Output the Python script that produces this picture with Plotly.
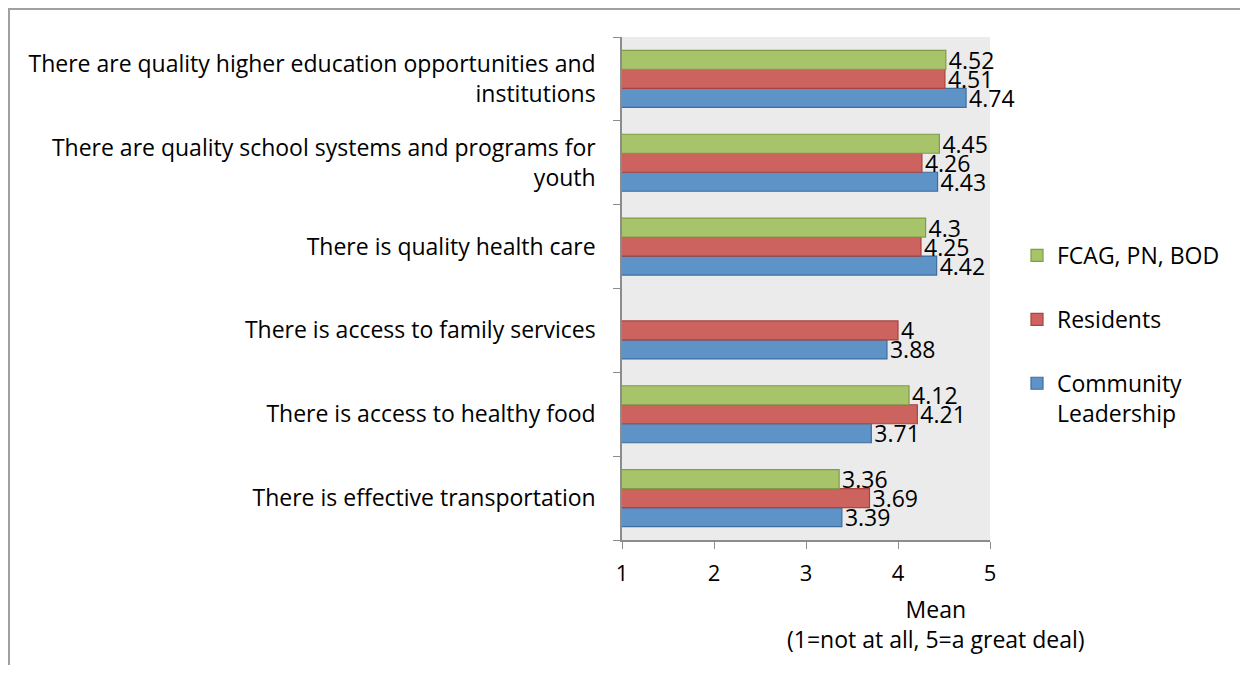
import plotly.graph_objects as go

# categories top-to-bottom as in the chart
categories = [
    "There are quality higher education opportunities and<br>institutions",
    "There are quality school systems and programs for<br>youth",
    "There is quality health care",
    "There is access to family services",
    "There is access to healthy food",
    "There is effective transportation",
]
fcag      = [4.52, 4.45, 4.3, None, 4.12, 3.36]
residents = [4.51, 4.26, 4.25, 4, 4.21, 3.69]
community = [4.74, 4.43, 4.42, 3.88, 3.71, 3.39]
x_ticks   = [1, 2, 3, 4, 5]

FONT = "Open Sans, sans-serif"

# first trace sits at the bottom of each group; legendrank puts FCAG on top of the legend
series = [
    ("Community<br>Leadership", community, "#5e93c7", "#3f6d9e", 3),
    ("Residents", residents, "#cd635f", "#a8433f", 2),
    ("FCAG, PN, BOD", fcag, "#a8c46b", "#7f9d42", 1),
]

fig = go.Figure()
for i, (name, vals, fill, edge, rank) in enumerate(series):
    fig.add_trace(go.Bar(
        y=categories, x=vals, orientation="h", name=name,
        marker=dict(color=fill, line=dict(color=edge, width=1.2)),
        text=[("" if v is None else f"{v:g}") for v in vals],
        textposition="outside", cliponaxis=False, constraintext="none",
        textfont=dict(size=23, color="black", family=FONT),
        legendgroup=f"g{i}", legendrank=rank,
    ))

# page body has an 8px margin, so figure coords = page coords - 8
W, H = 1232, 657
L, T = 614, 29
R, B = W - 982, H - 532
pw, ph = W - L - R, H - T - B

fig.update_layout(
    width=W, height=H,
    margin=dict(l=L, r=R, t=T, b=B, pad=0),
    paper_bgcolor="white", plot_bgcolor="#ebebeb",
    font=dict(family=FONT, size=23, color="black"),
    barmode="group", bargap=0.32, bargroupgap=0,
    showlegend=True,
    legend=dict(x=(1009 - L) / pw, y=1 - (226 - T) / ph, xanchor="left", yanchor="top",
                traceorder="grouped", tracegroupgap=31, valign="top",
                font=dict(size=23), itemwidth=30, bgcolor="rgba(0,0,0,0)"),
    xaxis=dict(range=[1, 5], tickvals=x_ticks, showgrid=False, zeroline=False,
               showline=True, linecolor="#8c8c8c", linewidth=1.5,
               ticks="outside", ticklen=7, tickcolor="#8c8c8c",
               ticklabelstandoff=6, tickfont=dict(size=22)),
    yaxis=dict(categoryorder="array", categoryarray=categories[::-1],
               showgrid=False, zeroline=False,
               showline=True, linecolor="#8c8c8c", linewidth=1.5,
               ticks="outside", ticklen=7, tickcolor="#8c8c8c",
               tickson="boundaries", ticklabelstandoff=20,
               tickfont=dict(size=23)),
)

fig.add_annotation(
    text="Mean<br>(1=not at all, 5=a great deal)",
    xref="paper", yref="paper",
    x=(928 - L) / pw, y=-(616 - (T + ph)) / ph,
    showarrow=False, align="center", font=dict(size=23),
    xanchor="center", yanchor="middle",
)

# outer chart border
fig.add_shape(type="rect", xref="paper", yref="paper",
              x0=(1 - L) / pw, x1=(1260 - L) / pw,
              y0=-(700 - (T + ph)) / ph, y1=1 + (T - 1) / ph,
              line=dict(color="#a0a0a0", width=2), layer="below")

fig.write_html("out.html")
